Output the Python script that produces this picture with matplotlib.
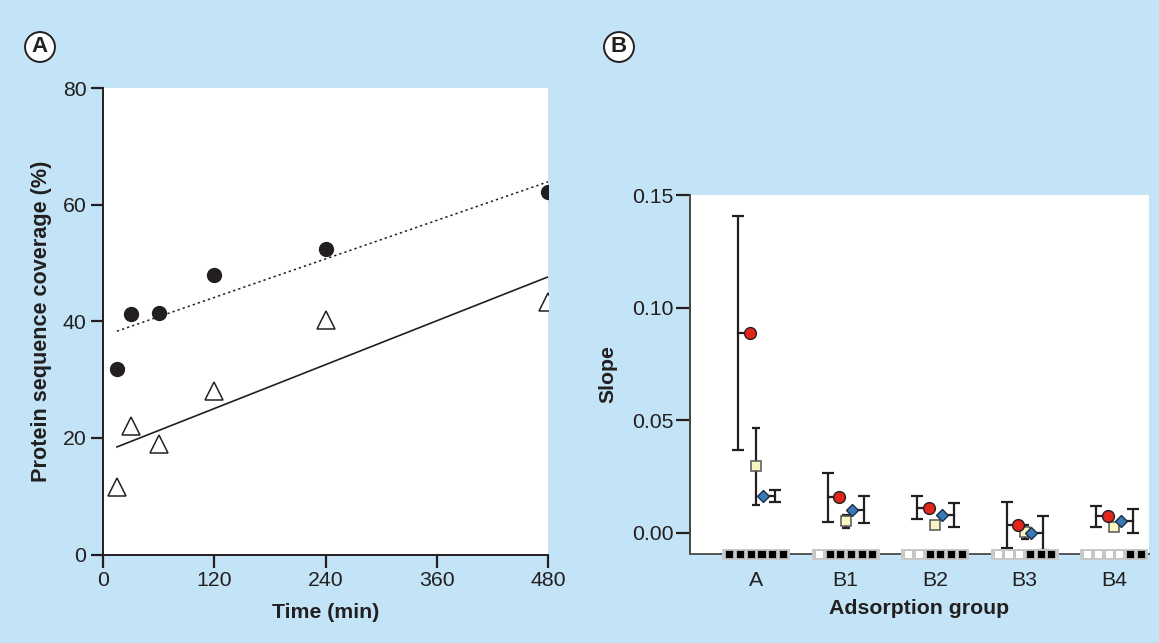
import numpy as np
import matplotlib
matplotlib.use("Agg")
import matplotlib.pyplot as plt
from matplotlib.patches import Rectangle
import matplotlib.transforms as mtransforms

plt.rcParams['font.family'] = ['Liberation Sans', 'DejaVu Sans']

# ---- panel A data ----
time_min = [15, 30, 60, 120, 240, 480]
cov_circles = [31.9, 41.2, 41.4, 47.9, 52.4, 62.1]
cov_triangles = [11.5, 22.1, 19.0, 28.1, 40.3, 43.3]
xticks_a = [0, 120, 240, 360, 480]
yticks_a = [0, 20, 40, 60, 80]

# ---- panel B data ----
groups = ['A', 'B1', 'B2', 'B3', 'B4']
red_mean = [0.0886, 0.0157, 0.0111, 0.0033, 0.0073]
red_err = [0.052, 0.011, 0.005, 0.0102, 0.0047]
sq_mean = [0.0294, 0.0050, 0.0033, 0.0003, 0.0024]
sq_err = [0.017, 0.003, 0.0, 0.0032, 0.0]
dia_mean = [0.0163, 0.0101, 0.0079, 0.0000, 0.0053]
dia_err = [0.0025, 0.006, 0.0054, 0.0075, 0.0053]
n_white = [0, 1, 2, 3, 4]   # open squares in the 6-box code per group
yticks_b = [0.00, 0.05, 0.10, 0.15]

bg = '#c2e4f6'
ink = '#231f20'

fig = plt.figure(figsize=(11.59, 6.43), dpi=100)
fig.patch.set_facecolor(bg)

# ================= panel A =================
ax = fig.add_axes([0.0889, 0.1376, 0.3839, 0.7255])
ax.plot(time_min, cov_circles, 'o', color=ink, ms=10, zorder=3)
ax.plot(time_min, cov_triangles, '^', mfc='white', mec=ink, mew=1.1, ms=13, zorder=3)

xfit = np.array([time_min[0], time_min[-1]])
p1 = np.polyfit(time_min, cov_circles, 1)
p2 = np.polyfit(time_min, cov_triangles, 1)
ax.plot(xfit, np.polyval(p1, xfit), color=ink, lw=1.1, ls=(0, (1.5, 2)))
ax.plot(xfit, np.polyval(p2, xfit), color=ink, lw=1.2)

ax.set_xlim(0, 480)
ax.set_ylim(0, 80)
ax.set_xticks(xticks_a)
ax.set_yticks(yticks_a)
for s in ['top', 'right']:
    ax.spines[s].set_visible(False)
for s in ['left', 'bottom']:
    ax.spines[s].set_color(ink)
    ax.spines[s].set_linewidth(1.4)
ax.spines['bottom'].set_zorder(5)
ax.tick_params(direction='out', length=9, width=1.6, color=ink,
               labelsize=15.3, labelcolor=ink, pad=3)
ax.set_xlabel('Time (min)', fontsize=15.3, fontweight='bold', color=ink, labelpad=9)
ax.set_ylabel('Protein sequence coverage (%)', fontsize=15.6, fontweight='bold',
              color=ink, labelpad=8)

# ================= panel B =================
bx = fig.add_axes([0.5953, 0.1384, 0.396, 0.5583])
xs = np.arange(len(groups))
off_r, off_d = -0.07, 0.075
off_re, off_de = -0.20, 0.21

for i in range(len(groups)):
    # red circle, bar to the left
    bx.errorbar(xs[i] + off_re, red_mean[i], yerr=red_err[i], fmt='none',
                ecolor=ink, elinewidth=1.6, capsize=4, capthick=1.6, zorder=2)
    bx.plot([xs[i] + off_re, xs[i] + off_r], [red_mean[i]] * 2, color=ink, lw=1.6, zorder=2)
    # diamond, bar to the right
    bx.errorbar(xs[i] + off_de, dia_mean[i], yerr=dia_err[i], fmt='none',
                ecolor=ink, elinewidth=1.6, capsize=4, capthick=1.6, zorder=2)
    bx.plot([xs[i] + off_d, xs[i] + off_de], [dia_mean[i]] * 2, color=ink, lw=1.6, zorder=2)
    # square, bar centred
    if sq_err[i] > 0:
        bx.errorbar(xs[i], sq_mean[i], yerr=sq_err[i], fmt='none',
                    ecolor=ink, elinewidth=1.6, capsize=3, capthick=1.6, zorder=2)

bx.plot(xs + off_r, red_mean, 'o', mfc='#e2261e', mec=ink, mew=1, ms=8.5, ls='none', zorder=4)
bx.plot(xs, sq_mean, 's', mfc='#f8f5c2', mec='#555555', mew=1.1, ms=7.5, ls='none', zorder=3)
bx.plot(xs + off_d, dia_mean, 'D', mfc='#3b78b6', mec='#1c2f4a', mew=1, ms=6.5, ls='none', zorder=5)

bx.set_xlim(-0.74, 4.39)
bx.set_ylim(-0.0095, 0.15)
bx.set_yticks(yticks_b)
bx.set_yticklabels(['%.2f' % v for v in yticks_b])
bx.set_xticks(xs)
bx.set_xticklabels(groups)
for s in ['top', 'right']:
    bx.spines[s].set_visible(False)
bx.spines['left'].set_color('#444444')
bx.spines['left'].set_linewidth(1.4)
bx.spines['bottom'].set_color('#555555')
bx.spines['bottom'].set_linewidth(1.4)
bx.tick_params(axis='y', direction='out', length=10, width=1.6, color=ink,
               labelsize=15.3, labelcolor=ink, pad=2)
bx.tick_params(axis='x', length=0, labelsize=15.3, labelcolor=ink, pad=12)
bx.set_xlabel('Adsorption group', fontsize=15.3, fontweight='bold', color=ink, labelpad=7)
bx.set_ylabel('Slope', fontsize=15.3, fontweight='bold', color=ink, labelpad=10)

# six-box group codes on the x axis
trans = mtransforms.blended_transform_factory(bx.transData, bx.transAxes)
sq_step, sq_w, sq_h = 0.1195, 0.09, 0.0223
for i in range(len(groups)):
    bx.add_patch(Rectangle((xs[i] - 0.38, -0.016), 0.76, 0.031, transform=trans,
                           fc='#c9c9c9', ec='none', clip_on=False, zorder=6))
    for k in range(6):
        cx = xs[i] + (k - 2.5) * sq_step
        face = 'white' if k < n_white[i] else 'black'
        bx.add_patch(Rectangle((cx - sq_w / 2, -sq_h / 2), sq_w, sq_h, transform=trans,
                               fc=face, ec='#bdbdbd', lw=0.6, clip_on=False, zorder=7))

# panel letters
for x, lab in [(40 / 1159, 'A'), (619 / 1159, 'B')]:
    fig.text(x, 1 - 47 / 643, lab, ha='center', va='center', fontsize=16,
             fontweight='bold', color=ink,
             bbox=dict(boxstyle='circle,pad=0.2', fc='white', ec=ink, lw=1.4))

fig.savefig('out.png', dpi=100, facecolor=bg)
